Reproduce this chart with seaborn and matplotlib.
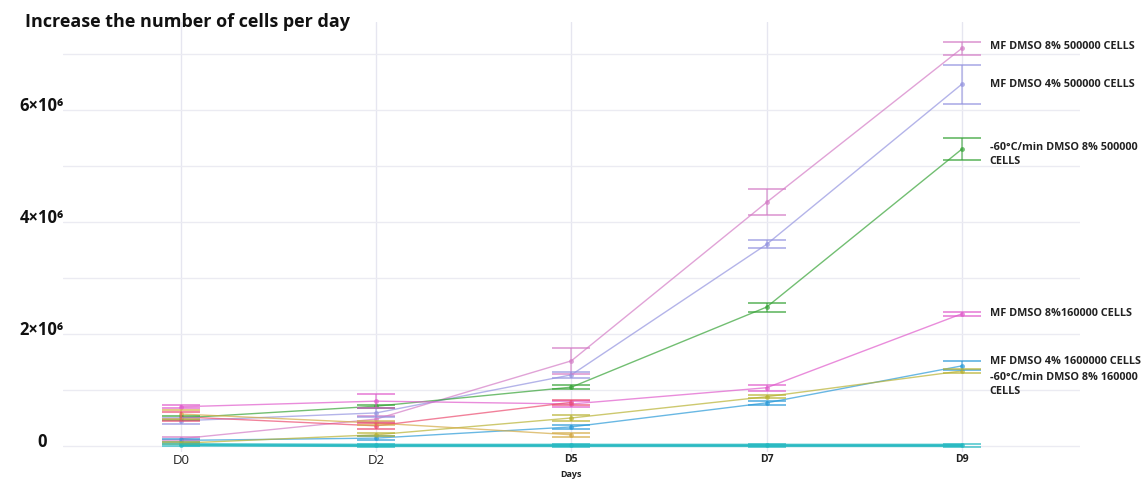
import numpy as np
import pandas as pd
import matplotlib
matplotlib.use("Agg")
import matplotlib.pyplot as plt
import matplotlib.transforms as mtransforms
from matplotlib.ticker import FixedLocator, MultipleLocator
import seaborn as sns

# ---- data -------------------------------------------------------------
days = ["D0", "D2", "D5", "D7", "D9"]

names = [
    "MF DMSO 8% 500000 CELLS",
    "MF DMSO 4% 500000 CELLS",
    "-60°C/min DMSO 8% 500000 CELLS",
    "MF DMSO 8%160000 CELLS",
    "MF DMSO 4% 1600000 CELLS",
    "-60°C/min DMSO 8% 160000 CELLS",
    "MF DMSO 4% 160000 CELLS",
    "-60°C/min DMSO 4% 500000 CELLS",
    "-60°C/min DMSO 4% 160000 CELLS",
]

mf8_500k = [0.13e6, 0.48e6, 1.52e6, 4.35e6, 7.10e6]
mf4_500k = [0.45e6, 0.59e6, 1.27e6, 3.60e6, 6.46e6]
slow8_500k = [0.50e6, 0.71e6, 1.05e6, 2.48e6, 5.30e6]
mf8_160k = [0.70e6, 0.80e6, 0.75e6, 1.04e6, 2.36e6]
mf4_1600k = [0.10e6, 0.14e6, 0.34e6, 0.77e6, 1.43e6]
slow8_160k = [0.05e6, 0.20e6, 0.50e6, 0.88e6, 1.34e6]
mf4_160k = [0.57e6, 0.41e6, 0.20e6, np.nan, np.nan]
slow4_500k = [0.52e6, 0.36e6, 0.78e6, np.nan, np.nan]
slow4_160k = [0.02e6, 0.01e6, 0.01e6, 0.01e6, 0.01e6]

mf8_500k_err = [0.03e6, 0.05e6, 0.23e6, 0.23e6, 0.12e6]
mf4_500k_err = [0.05e6, 0.08e6, 0.05e6, 0.07e6, 0.35e6]
slow8_500k_err = [0.03e6, 0.03e6, 0.03e6, 0.08e6, 0.20e6]
mf8_160k_err = [0.03e6, 0.13e6, 0.05e6, 0.05e6, 0.04e6]
mf4_1600k_err = [0.03e6, 0.03e6, 0.03e6, 0.04e6, 0.08e6]
slow8_160k_err = [0.02e6, 0.03e6, 0.05e6, 0.03e6, 0.03e6]
mf4_160k_err = [0.08e6, 0.04e6, 0.04e6, np.nan, np.nan]
slow4_500k_err = [0.08e6, 0.05e6, 0.04e6, np.nan, np.nan]
slow4_160k_err = [0.02e6, 0.02e6, 0.02e6, 0.02e6, 0.02e6]

values = [mf8_500k, mf4_500k, slow8_500k, mf8_160k, mf4_1600k,
          slow8_160k, mf4_160k, slow4_500k, slow4_160k]
errors = [mf8_500k_err, mf4_500k_err, slow8_500k_err, mf8_160k_err,
          mf4_1600k_err, slow8_160k_err, mf4_160k_err, slow4_500k_err,
          slow4_160k_err]

colors = ["#d47cc6", "#9494e0", "#36a336", "#e05ccc", "#2a9ad8",
          "#b8b232", "#d4aa44", "#ec4c70", "#22b8c0"]

# end-of-line labels: (series index, text, vertical offset in points)
end_labels = [
    (0, "MF DMSO 8% 500000 CELLS", 1),
    (1, "MF DMSO 4% 500000 CELLS", 0),
    (2, "-60°C/min DMSO 8% 500000\nCELLS", 0),
    (3, "MF DMSO 8%160000 CELLS", 0),
    (4, "MF DMSO 4% 1600000 CELLS", 3),
    (5, "-60°C/min DMSO 8% 160000\nCELLS", -6),
]

# ---- long-form table --------------------------------------------------
rows = []
for name, vals in zip(names, values):
    for i, (d, v) in enumerate(zip(days, vals)):
        if not np.isnan(v):
            rows.append({"Days": i, "Day": d, "Cells": v, "Series": name})
df = pd.DataFrame(rows)

# ---- figure -----------------------------------------------------------
sns.set_theme(style="white")
plt.rcParams["font.family"] = ["Open Sans", "DejaVu Sans"]

fig = plt.figure(figsize=(11.41, 4.84), dpi=100)
ax = fig.add_axes([0.055, 0.067, 0.8915, 0.8875])

palette = dict(zip(names, colors))
sns.lineplot(data=df, x="Days", y="Cells", hue="Series", palette=palette,
             hue_order=names, marker="o", markersize=3.5, markeredgewidth=0,
             linewidth=1.0, alpha=0.7, legend=False, ax=ax, sort=False)

# error bars with wide caps
for vals, errs, c in zip(values, errors, colors):
    x = np.arange(len(days))
    v = np.array(vals)
    e = np.array(errs)
    ok = ~np.isnan(v)
    ax.errorbar(x[ok], v[ok], yerr=e[ok], fmt="none", ecolor=c,
                elinewidth=1.1, capsize=13.5, capthick=1.4, alpha=0.65)

# thicker baseline series
ax.plot(np.arange(len(days)), slow4_160k, color=colors[8], lw=2.5,
        alpha=0.85, zorder=1)

# end-of-line labels
for idx, text, dy in end_labels:
    multiline = "\n" in text
    ax.annotate(text, xy=(len(days) - 1, values[idx][-1]),
                xytext=(20, dy + (5 if multiline else 0)),
                textcoords="offset points", ha="left",
                va="top" if multiline else "center",
                fontsize=7.8, fontweight="bold", color="#222222",
                linespacing=1.3)

# axes limits / grid
ax.set_xlim(-0.605, 4.605)
ax.set_ylim(-0.1e6, 7.57e6)
ax.set_xticks(range(len(days)))
ax.set_xticklabels(days)
ax.yaxis.set_major_locator(FixedLocator([0, 2e6, 4e6, 6e6]))
ax.yaxis.set_minor_locator(MultipleLocator(1e6))
ax.set_yticklabels(["0", "2×10⁶", "4×10⁶", "6×10⁶"])
ax.grid(True, which="both", axis="y", color="#ebebf2", lw=1)
ax.grid(True, which="major", axis="x", color="#e6e6f0", lw=1)
for s in ax.spines.values():
    s.set_visible(False)
ax.tick_params(axis="both", which="both", length=0)
ax.tick_params(axis="y", pad=15)
ax.tick_params(axis="x", pad=2)

shift = mtransforms.ScaledTranslation(0, 4 / 72, fig.dpi_scale_trans)
for lab in ax.get_yticklabels():
    lab.set_fontsize(12)
    lab.set_fontweight("bold")
    lab.set_horizontalalignment("center")
    lab.set_color("#111111")
    lab.set_transform(lab.get_transform() + shift)

for i, lab in enumerate(ax.get_xticklabels()):
    if i < 2:
        lab.set_fontsize(9.5)
        lab.set_fontweight("normal")
    else:
        lab.set_fontsize(7.5)
        lab.set_fontweight("bold")
    lab.set_color("#222222")

ax.set_ylabel("")
ax.set_xlabel("Days", fontsize=6.5, fontweight="bold", color="#222222",
              labelpad=2)

fig.text(0.022, 0.955, "Increase the number of cells per day",
         fontsize=13, fontweight="bold", color="#111111", va="center")

fig.savefig("out.png", dpi=100, facecolor="white")
